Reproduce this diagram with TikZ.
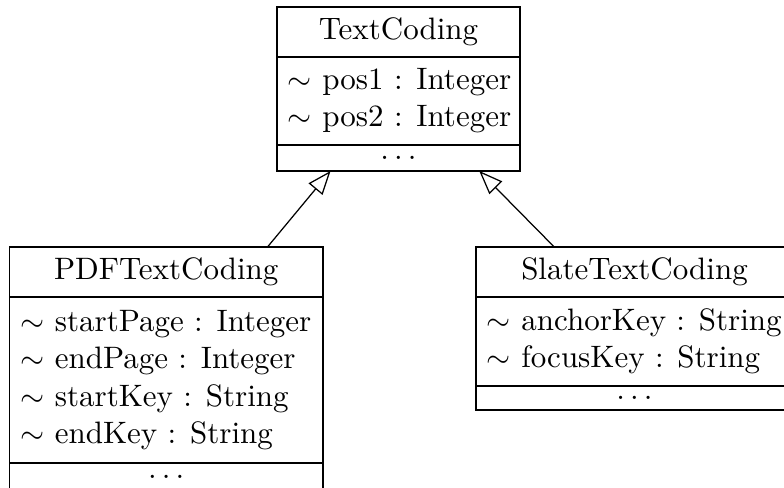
\documentclass[tikz,border=0pt]{standalone}
\usetikzlibrary{arrows.meta,fit}
\begin{document}
% one drawing unit = one pixel of a 784 x 487 canvas
\def\px{0.3226pt}
\begin{tikzpicture}[
  x=\px, y=-\px,
  every node/.style={font=\fontsize{10}{12}\selectfont},
  compart/.style={draw, inner sep=0pt, outer sep=0pt, anchor=north west,
    minimum width=#1*\px},
  attrs/.style={align=left, anchor=west, inner sep=3.33pt},
  whole/.style={inner sep=0pt, outer sep=0pt},
  inherit/.style={-{Triangle[open, length=7.6pt, width=5.8pt]}}
]
\useasboundingbox (0,0) rectangle (784,487);

% class TextCoding
\node[compart=243, minimum height=50*\px] (tc-name) at (277,7) {TextCoding};
\node[compart=243, minimum height=88*\px] (tc-attr) at (tc-name.south west) {};
\node[attrs] (tc-attr-text) at (tc-attr.west)
  {$\sim$ pos1 : Integer\\$\sim$ pos2 : Integer};
\node[compart=243, minimum height=26*\px] (tc-ops) at (tc-attr.south west) {$\ldots$};
\node[whole, fit=(tc-name)(tc-ops)] (tc) {};

% class PDFTextCoding
\node[compart=313.5, minimum height=50*\px] (pdf-name) at (9.5,247) {PDFTextCoding};
\node[compart=313.5, minimum height=166*\px] (pdf-attr) at (pdf-name.south west) {};
\node[attrs] (pdf-attr-text) at (pdf-attr.west)
  {$\sim$ startPage : Integer\\$\sim$ endPage : Integer\\
   $\sim$ startKey : String\\$\sim$ endKey : String};
\node[compart=313.5, minimum height=28*\px] (pdf-ops) at (pdf-attr.south west) {$\ldots$};
\node[whole, fit=(pdf-name)(pdf-ops)] (pdf) {};

% class SlateTextCoding
\node[compart=317, minimum height=50*\px] (slate-name) at (476,247) {SlateTextCoding};
\node[compart=317, minimum height=89*\px] (slate-attr) at (slate-name.south west) {};
\node[attrs] (slate-attr-text) at (slate-attr.west)
  {$\sim$ anchorKey : String\\$\sim$ focusKey : String};
\node[compart=317, minimum height=24*\px] (slate-ops) at (slate-attr.south west) {$\ldots$};
\node[whole, fit=(slate-name)(slate-ops)] (slate) {};

% generalisations
\draw[inherit] (pdf) -- (tc);
\draw[inherit] (slate) -- (tc);
\end{tikzpicture}
\end{document}
